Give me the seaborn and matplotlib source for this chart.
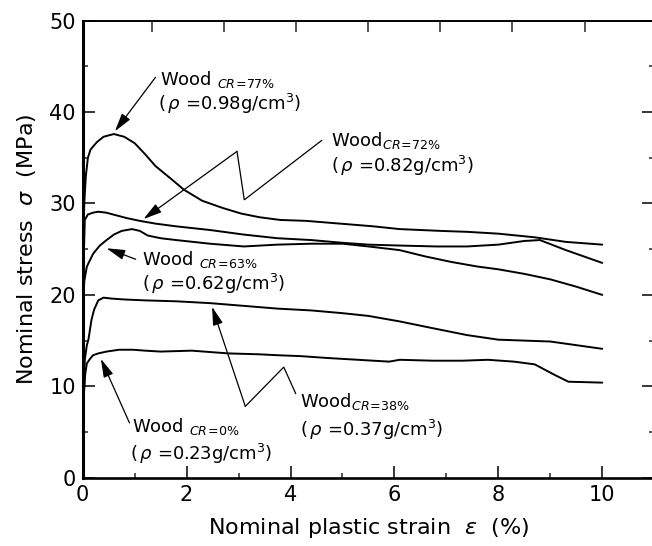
import numpy as np
import pandas as pd
import matplotlib
matplotlib.use("Agg")
import matplotlib.pyplot as plt
import seaborn as sns

# Nominal plastic strain (%) / nominal stress (MPa) for each compression ratio
strain_cr77 = [0, 0.01, 0.03, 0.06, 0.1, 0.15, 0.27, 0.4, 0.6, 0.8, 1.0, 1.2, 1.4, 1.7, 1.95,
               2.3, 2.7, 3.05, 3.4, 3.8, 4.3, 4.95, 5.6, 6.1, 6.9, 7.4, 8.0, 8.7, 9.3, 10.0]
stress_cr77 = [0, 26.0, 30.0, 33.0, 35.0, 35.9, 36.7, 37.3, 37.6, 37.3, 36.6, 35.4, 34.1, 32.7, 31.5,
               30.3, 29.5, 28.9, 28.5, 28.2, 28.1, 27.8, 27.5, 27.2, 27.0, 26.9, 26.7, 26.3, 25.8, 25.5]

strain_cr72 = [0, 0.01, 0.04, 0.1, 0.2, 0.3, 0.45, 0.65, 0.85, 1.1, 1.4, 1.8, 2.45, 3.1, 3.75,
               4.4, 5.0, 5.5, 6.1, 6.8, 7.4, 8.0, 8.5, 8.8, 9.3, 9.6, 10.0]
stress_cr72 = [0, 22.0, 28.2, 28.8, 29.0, 29.1, 29.0, 28.7, 28.4, 28.1, 27.8, 27.5, 27.1, 26.6, 26.2,
               26.0, 25.7, 25.5, 25.4, 25.3, 25.3, 25.5, 25.9, 26.0, 24.9, 24.3, 23.5]

strain_cr63 = [0, 0.01, 0.03, 0.08, 0.2, 0.33, 0.46, 0.6, 0.75, 0.95, 1.1, 1.25, 1.5, 1.8, 2.45,
               3.1, 3.75, 4.4, 5.0, 5.5, 6.1, 6.6, 7.1, 7.6, 8.0, 8.5, 9.0, 9.5, 10.0]
stress_cr63 = [0, 19.0, 21.5, 23.1, 24.5, 25.4, 26.0, 26.6, 27.0, 27.2, 27.0, 26.5, 26.2, 26.0, 25.6,
               25.3, 25.5, 25.6, 25.6, 25.3, 24.9, 24.2, 23.6, 23.1, 22.8, 22.3, 21.7, 20.9, 20.0]

strain_cr38 = [0, 0.02, 0.04, 0.08, 0.11, 0.17, 0.22, 0.3, 0.4, 0.55, 0.8, 1.2, 1.8, 2.45, 3.1,
               3.75, 4.4, 5.0, 5.5, 6.1, 6.7, 7.4, 8.0, 8.5, 9.0, 9.5, 10.0]
stress_cr38 = [0, 8.0, 12.9, 14.5, 15.1, 17.3, 18.4, 19.4, 19.7, 19.6, 19.5, 19.4, 19.3, 19.1, 18.8,
               18.5, 18.3, 18.0, 17.7, 17.1, 16.4, 15.6, 15.1, 15.0, 14.9, 14.5, 14.1]

strain_cr0 = [0, 0.02, 0.05, 0.08, 0.14, 0.2, 0.3, 0.46, 0.7, 0.97, 1.2, 1.5, 2.1, 2.8, 3.4,
              3.75, 4.2, 4.7, 5.3, 5.9, 6.1, 6.75, 7.3, 7.8, 8.3, 8.7, 9.1, 9.35, 9.7, 10.0]
stress_cr0 = [0, 9.0, 11.4, 12.5, 13.0, 13.4, 13.6, 13.8, 14.0, 14.0, 13.9, 13.8, 13.9, 13.6, 13.5,
              13.4, 13.3, 13.1, 12.9, 12.7, 12.9, 12.8, 12.8, 12.9, 12.7, 12.4, 11.2, 10.5, 10.45, 10.4]

curve_names = ["CR=77%", "CR=72%", "CR=63%", "CR=38%", "CR=0%"]

# Axis ticks
x_major = [0, 2, 4, 6, 8, 10]
x_minor = [1, 3, 5, 7, 9]
y_major = [0, 10, 20, 30, 40, 50]
y_minor = [5, 15, 25, 35, 45]
top_ticks = [1.335, 2.72, 4.11, 5.5, 6.88, 8.27, 9.66]

# Labels for each curve: two text lines, their anchor points, and the leader path ending at the arrow tip
label_cr77 = ("Wood $_{\\mathit{CR\\!=\\!77\\%}}$", "($\\,\\rho$ =0.98g/cm$^3$)")
label_cr72 = ("Wood$_{\\mathit{CR\\!=\\!72\\%}}$", "($\\,\\rho$ =0.82g/cm$^3$)")
label_cr63 = ("Wood $_{\\mathit{CR\\!=\\!63\\%}}$", "($\\,\\rho$ =0.62g/cm$^3$)")
label_cr38 = ("Wood$_{\\mathit{CR\\!=\\!38\\%}}$", "($\\,\\rho$ =0.37g/cm$^3$)")
label_cr0 = ("Wood $_{\\mathit{CR\\!=\\!0\\%}}$", "($\\,\\rho$ =0.23g/cm$^3$)")

pos_cr77 = [(1.48, 42.95), (1.44, 40.2)]
pos_cr72 = [(4.77, 36.3), (4.77, 33.4)]
pos_cr63 = [(1.14, 23.3), (1.14, 20.5)]
pos_cr38 = [(4.19, 7.77), (4.19, 4.6)]
pos_cr0 = [(0.94, 5.03), (0.91, 1.95)]

path_cr77 = [(1.40, 43.8), (0.62, 37.9)]
path_cr72 = [(4.60, 36.9), (3.11, 30.4), (2.97, 35.7), (1.17, 28.3)]
path_cr63 = [(1.02, 23.9), (0.46, 25.1)]
path_cr38 = [(4.10, 9.2), (3.87, 12.1), (3.13, 7.8), (2.49, 18.7)]
path_cr0 = [(0.90, 6.0), (0.35, 13.0)]

sns.set_theme(style="ticks")
plt.rcParams["font.family"] = ["DejaVu Sans"]
plt.rcParams["mathtext.fontset"] = "dejavusans"

W, H = 652, 546
fig = plt.figure(figsize=(W / 100, H / 100), dpi=100)
ax = fig.add_axes([82.7 / W, 68.3 / H, 571.5 / W, 457 / H])

frames = []
for name, xs, ys in zip(curve_names,
                        [strain_cr77, strain_cr72, strain_cr63, strain_cr38, strain_cr0],
                        [stress_cr77, stress_cr72, stress_cr63, stress_cr38, stress_cr0]):
    frames.append(pd.DataFrame({"strain": xs, "stress": ys, "specimen": name}))
df = pd.concat(frames, ignore_index=True)

for name in curve_names:
    sub = df[df["specimen"] == name]
    sns.lineplot(data=sub, x="strain", y="stress", ax=ax, sort=False,
                 estimator=None, color="black", linewidth=1.4, legend=False)

ax.set_xlim(0, 11)
ax.set_ylim(0, 50)
ax.set_xticks(x_major)
ax.set_xticks(x_minor, minor=True)
ax.set_yticks(y_major)
ax.set_yticks(y_minor, minor=True)
ax.set_xticklabels([str(v) for v in x_major])
ax.set_yticklabels([str(v) for v in y_major])

ax.tick_params(which="major", direction="in", length=8.5, width=1.1, colors="black",
               labelsize=15, left=True, right=True, bottom=True, top=False, pad=5)
ax.tick_params(which="minor", direction="in", length=3.8, width=1.1,
               left=True, right=True, bottom=True, top=False)

for side, lw in [("left", 2.2), ("bottom", 1.9), ("top", 1.4), ("right", 1.4)]:
    ax.spines[side].set_visible(True)
    ax.spines[side].set_linewidth(lw)
    ax.spines[side].set_color("black")

# Top edge tick marks on their own scale
ax_top = ax.twiny()
ax_top.set_xlim(ax.get_xlim())
ax_top.set_xticks(top_ticks)
ax_top.tick_params(axis="x", direction="in", length=8, width=1.1, labeltop=False,
                   top=True, bottom=False)
for s in ax_top.spines.values():
    s.set_visible(False)

ax.set_xlabel("Nominal plastic strain  $\\varepsilon$  (%)", fontsize=16, labelpad=8, color="black")
ax.set_ylabel("Nominal stress  $\\sigma$  (MPa)", fontsize=16, labelpad=8, color="black")

arrow_kw = dict(arrowstyle="-|>,head_length=0.8,head_width=0.22", color="black",
                lw=0.9, shrinkA=0, shrinkB=0, mutation_scale=14)

for (l1, l2), pos, path in zip([label_cr77, label_cr72, label_cr63, label_cr38, label_cr0],
                               [pos_cr77, pos_cr72, pos_cr63, pos_cr38, pos_cr0],
                               [path_cr77, path_cr72, path_cr63, path_cr38, path_cr0]):
    ax.text(pos[0][0], pos[0][1], l1, fontsize=13, ha="left", va="baseline", color="black")
    ax.text(pos[1][0], pos[1][1], l2, fontsize=13, ha="left", va="baseline", color="black")
    px = [p[0] for p in path]
    py = [p[1] for p in path]
    if len(path) > 2:
        ax.plot(px[:-1], py[:-1], color="black", lw=0.9, solid_joinstyle="miter")
    ax.annotate("", xy=path[-1], xytext=path[-2], arrowprops=arrow_kw)

fig.savefig("out.png", dpi=100, facecolor="white")
